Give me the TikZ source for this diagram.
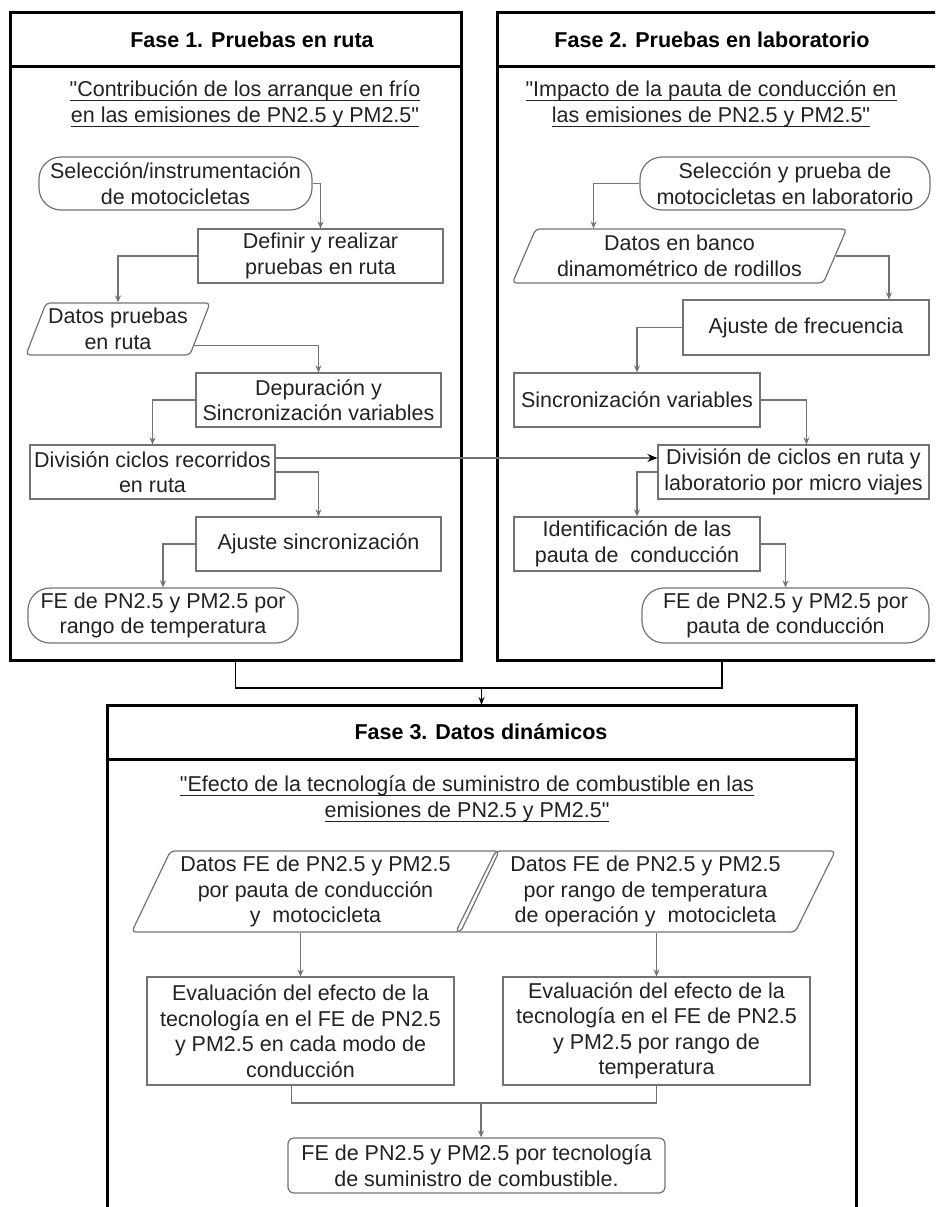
\documentclass[tikz,border=0pt]{standalone}
\usepackage{fontspec}
\setmainfont{Liberation Sans}
\usetikzlibrary{shapes.geometric, arrows.meta}

\definecolor{borde}{HTML}{737373}
\definecolor{texto}{HTML}{222222}
\newcommand{\letra}{\fontsize{21.5}{25.5}\selectfont}
\newsavebox{\cajatexto}
\newcommand{\subraya}[1]{\sbox{\cajatexto}{#1}\rlap{\rule[-4.5pt]{\wd\cajatexto}{1.1pt}}\usebox{\cajatexto}}

\tikzset{
  caja/.style={rectangle, draw=borde, line width=1.2pt, text=texto, align=center,
    inner sep=2pt, minimum width=245pt, minimum height=54pt},
  terminal/.style={caja, rounded corners=22pt},
  datos/.style={caja, trapezium, trapezium left angle=66, trapezium right angle=114,
    trapezium stretches=true, rounded corners=4pt},
  marco/.style={rectangle, draw=black, line width=3pt, outer sep=0pt},
  flecha/.style={draw=borde, line width=1.2pt, -{Stealth[length=7pt,width=6pt]}},
  titulo/.style={font=\letra\bfseries, text=black},
  subtitulo/.style={align=center, text=texto},
}

\begin{document}
\begin{tikzpicture}[x=1pt, y=-1pt, font=\letra]
    \useasboundingbox (0,0) rectangle (935,1207);
    \clip (0,0) rectangle (935,1207);

    % Marcos de las fases
    \node[marco, minimum width=451pt, minimum height=647pt] (f1) at (235.5,336.5) {};
    \node[marco, minimum width=450pt, minimum height=647pt] (f2) at (722,336.5) {};
    \node[marco, minimum width=749pt, minimum height=560pt] (f3) at (481.5,985) {};
    \draw[line width=3pt] ([yshift=-54pt]f1.north west) -- ([yshift=-54pt]f1.north east);
    \draw[line width=3pt] ([yshift=-54pt]f2.north west) -- ([yshift=-54pt]f2.north east);
    \draw[line width=3pt] ([yshift=-54pt]f3.north west) -- ([yshift=-54pt]f3.north east);

    % Titulos
    \node[titulo] (h1) at (252,40) {Fase 1. Pruebas en ruta};
    \node[titulo] (h2) at (712,40) {Fase 2. Pruebas en laboratorio};
    \node[titulo] (h3) at (481,732) {Fase 3. Datos dinámicos};

    \node[subtitulo] (s1) at (245,104) {\subraya{\textquotedbl Contribución de los arranque en frío}\\\subraya{en las emisiones de PN2.5 y PM2.5\textquotedbl}};
    \node[subtitulo] (s2) at (711,104) {\subraya{\textquotedbl Impacto de la pauta de conducción en}\\\subraya{las emisiones de PN2.5 y PM2.5\textquotedbl}};
    \node[subtitulo] (s3) at (467,799) {\subraya{\textquotedbl Efecto de la tecnología de suministro de combustible en las}\\\subraya{emisiones de PN2.5 y PM2.5\textquotedbl}};

    % Fase 1
    \node[terminal, minimum width=273pt, minimum height=53pt] (a1) at (175.5,183.5) {Selección/instrumentación\\de motocicletas};
    \node[caja] (a2) at (320.5,256) {Definir y realizar\\pruebas en ruta};
    \node[datos, minimum width=177pt, minimum height=52pt] (a3) at (118,329) {Datos pruebas\\en ruta};
    \node[caja] (a4) at (318.5,400) {Depuración y\\Sincronización variables};
    \node[caja] (a5) at (152.5,472) {División ciclos recorridos\\en ruta};
    \node[caja] (a6) at (318.5,544) {Ajuste sincronización};
    \node[terminal, minimum width=270pt, minimum height=55pt] (a7) at (163,615.5) {FE de PN2.5 y PM2.5 por\\rango de temperatura};

    \draw[flecha] (a1.east) -| (a2.north);
    \draw[flecha] (a2.west) -| (a3.north);
    \draw[flecha] (a3.-12) -| (a4.north);
    \draw[flecha] (a4.west) -| (a5.north);
    \draw[flecha] (a5.east) -| (a6.north);
    \draw[flecha] (a6.west) -| (a7.north);

    % Fase 2
    \node[terminal, minimum width=290pt, minimum height=53pt] (b1) at (785,183.5) {Selección y prueba de\\motocicletas en laboratorio};
    \node[datos, minimum width=335pt] (b2) at (679.5,256) {Datos en banco\\dinamométrico de rodillos};
    \node[caja, minimum width=246pt, minimum height=55pt] (b3) at (806,327.5) {Ajuste de frecuencia};
    \node[caja, minimum width=246pt] (b4) at (637,400) {Sincronización variables};
    \node[caja, minimum width=271pt] (b5) at (793.5,472) {División de ciclos en ruta y\\laboratorio por micro viajes};
    \node[caja, minimum width=246pt] (b6) at (637,544) {Identificación de las\\pauta de~ conducción};
    \node[terminal, minimum width=287pt, minimum height=55pt] (b7) at (785.5,615.5) {FE de PN2.5 y PM2.5 por\\pauta de conducción};

    \draw[flecha] (b1.west) -| ([xshift=-86pt]b2.north);
    \draw[flecha] (b2.east) -| ([xshift=83pt]b3.north);
    \draw[flecha] (b3.west) -| (b4.north);
    \draw[flecha] (b4.east) -| ([xshift=13pt]b5.north);
    \draw[flecha] (b5.west) -| (b6.north);
    \draw[flecha] (b6.east) -| (b7.north);

    % Enlace ruta - laboratorio
    \draw[draw=borde, line width=2.2pt, -{Stealth[length=10pt,width=8pt,color=black]}] ([yshift=14pt]a5.east) -- ([yshift=14pt]b5.west);

    % Union de fases 1 y 2
    \coordinate (junta) at (481.5,688);
    \draw[line width=1.5pt] (f1.south) |- (junta) -| (f2.south);
    \draw[line width=1.5pt, -{Stealth[length=8pt,width=6pt]}] (junta) -- (f3.north);

    % Fase 3
    \node[datos, trapezium left angle=64, trapezium right angle=116, minimum width=369pt, minimum height=81pt] (c1) at (315.5,891.5) {Datos FE de PN2.5 y PM2.5\\por pauta de conducción\\y~ motocicleta};
    \node[datos, trapezium left angle=64, trapezium right angle=116, minimum width=381pt, minimum height=81pt] (c2) at (645.5,891.5) {Datos FE de PN2.5 y PM2.5\\por rango de temperatura\\de operación y~ motocicleta};
    \node[caja, minimum width=307pt, minimum height=108pt] (c3) at (300.5,1031) {Evaluación del efecto de la\\tecnología en el FE de PN2.5\\y PM2.5 en cada modo de\\conducción};
    \node[caja, minimum width=307pt, minimum height=108pt] (c4) at (656.5,1031) {Evaluación del efecto de la\\tecnología en el FE de PN2.5\\y PM2.5 por rango de\\temperatura};
    \node[caja, rounded corners=6pt, minimum width=377pt, minimum height=55pt] (c5) at (476.5,1165.5) {FE de PN2.5 y PM2.5 por tecnología\\de suministro de combustible.};

    \draw[flecha] (c3.north |- c1.south) -- (c3.north);
    \draw[flecha] (c4.north |- c2.south) -- (c4.north);
    \coordinate (junta3) at (481,1103);
    \draw[draw=borde, line width=1.2pt] ([xshift=-9pt]c3.south) |- (junta3) -| (c4.south);
    \draw[flecha] (junta3) -- (junta3 |- c5.north);
\end{tikzpicture}
\end{document}
